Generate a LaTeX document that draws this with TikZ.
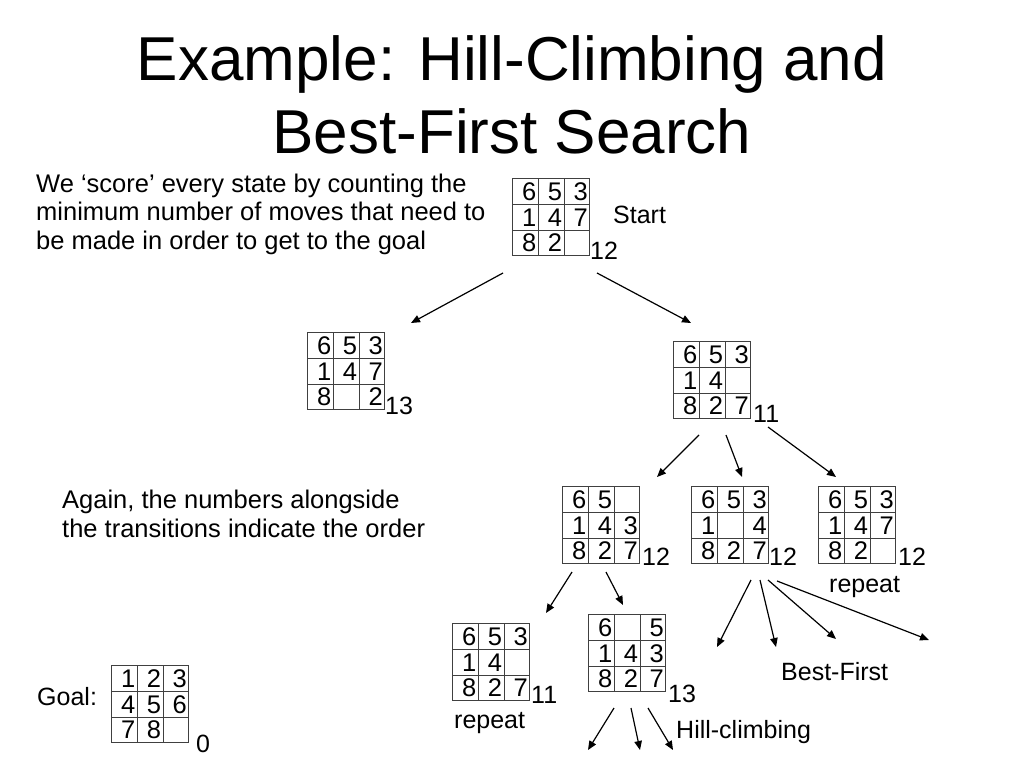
\documentclass[tikz,border=0pt]{standalone}
\usepackage{fontspec}
\setmainfont{Liberation Sans}
\usetikzlibrary{matrix,arrows.meta}
\begin{document}
\begin{tikzpicture}[x=1pt,y=-1pt,
  txt/.style={inner sep=0pt, font=\fontsize{25}{29}\selectfont},
  bigtxt/.style={inner sep=0pt, font=\fontsize{25.5}{29}\selectfont},
  ttl/.style={inner sep=0pt, font=\fontsize{62}{74}\selectfont},
  puzzle/.style={matrix of nodes, nodes in empty cells, anchor=north west, inner sep=0pt,
     column sep=-1pt, row sep=-1pt,
     nodes={draw=black!75, line width=1pt, minimum width=25.7pt, minimum height=25.7pt,
       text width=21.7pt, inner xsep=2pt, inner ysep=0pt, align=right,
       font=\fontsize{25.5}{25.5}\selectfont, text height=18pt, text depth=0pt}},
  arr/.style={-{Triangle[length=9pt,width=7.5pt]}, line width=1.2pt},
]
\path[fill=white,use as bounding box] (0,0) rectangle (1024,768);

% title
\node[ttl, anchor=base] (t1) at (512,80) {Example: Hill-Climbing and};
\node[ttl, anchor=base] (t2) at (512,153) {Best-First Search};

% explanatory text
\node[bigtxt, anchor=base west] (e1) at (36,192) {We ‘score’ every state by counting the};
\node[bigtxt, anchor=base west] (e2) at (36,220.5) {minimum number of moves that need to};
\node[bigtxt, anchor=base west] (e3) at (36,249) {be made in order to get to the goal};
\node[bigtxt, anchor=base west] (g1) at (62,508) {Again, the numbers alongside};
\node[bigtxt, anchor=base west] (g2) at (62,537) {the transitions indicate the order};

% puzzles
\matrix (start) [puzzle] at (512,178) {6 & 5 & 3\\ 1 & 4 & 7\\ 8 & 2 & \\};
\matrix (L) [puzzle] at (307,332) {6 & 5 & 3\\ 1 & 4 & 7\\ 8 & & 2\\};
\matrix (R) [puzzle] at (673,341) {6 & 5 & 3\\ 1 & 4 & \\ 8 & 2 & 7\\};
\matrix (A) [puzzle] at (562,486) {6 & 5 & \\ 1 & 4 & 3\\ 8 & 2 & 7\\};
\matrix (B) [puzzle] at (691,486) {6 & 5 & 3\\ 1 & & 4\\ 8 & 2 & 7\\};
\matrix (C) [puzzle] at (818,486) {6 & 5 & 3\\ 1 & 4 & 7\\ 8 & 2 & \\};
\matrix (D) [puzzle] at (452,623) {6 & 5 & 3\\ 1 & 4 & \\ 8 & 2 & 7\\};
\matrix (E) [puzzle] at (588,614) {6 & & 5\\ 1 & 4 & 3\\ 8 & 2 & 7\\};
\matrix (goal) [puzzle] at (111,665) {1 & 2 & 3\\ 4 & 5 & 6\\ 7 & 8 & \\};

% labels
\node[txt, anchor=base west] (lstart) at (613,223) {Start};
\node[txt, anchor=base west] (sstart) at (590,259) {12};
\node[txt, anchor=base west] (sL) at (385,414) {13};
\node[txt, anchor=base west] (sR) at (753,422) {11};
\node[txt, anchor=base west] (sA) at (642,565) {12};
\node[txt, anchor=base west] (sB) at (769,565) {12};
\node[txt, anchor=base west] (sC) at (898,565) {12};
\node[txt, anchor=base west] (sD) at (531,703) {11};
\node[txt, anchor=base west] (sE) at (668,702) {13};
\node[txt, anchor=base west] (sG) at (196,752) {0};
\node[txt, anchor=base west] (lgoal) at (37,705) {Goal:};
\node[txt, anchor=base west] (rep1) at (829,592) {repeat};
\node[txt, anchor=base west] (rep2) at (454,728) {repeat};
\node[txt, anchor=base west] (bf) at (781,680) {Best-First};
\node[txt, anchor=base west] (hc) at (676,738) {Hill-climbing};

% arrow end points
\coordinate (a1s) at (503,273); \coordinate (a1e) at (411,323);
\coordinate (a2s) at (597,273); \coordinate (a2e) at (691,323);
\coordinate (b1s) at (699,435); \coordinate (b1e) at (657,477);
\coordinate (b2s) at (726,435); \coordinate (b2e) at (742,477);
\coordinate (b3s) at (768,427); \coordinate (b3e) at (836,477);
\coordinate (c1s) at (572,572); \coordinate (c1e) at (546,613);
\coordinate (c2s) at (606,572); \coordinate (c2e) at (623,605);
\coordinate (d1s) at (751,580); \coordinate (d1e) at (717,647);
\coordinate (d2s) at (760,580); \coordinate (d2e) at (776,647);
\coordinate (d3s) at (768,580); \coordinate (d3e) at (836,639);
\coordinate (d4s) at (777,581); \coordinate (d4e) at (929,640);
\coordinate (f1s) at (614,708); \coordinate (f1e) at (588,750);
\coordinate (f2s) at (631,708); \coordinate (f2e) at (640,750);
\coordinate (f3s) at (648,708); \coordinate (f3e) at (673,750);

\foreach \p in {a1,a2,b1,b2,b3,c1,c2,d1,d2,d3,d4,f1,f2,f3}
  \draw[arr] (\p s) -- (\p e);
\end{tikzpicture}
\end{document}
